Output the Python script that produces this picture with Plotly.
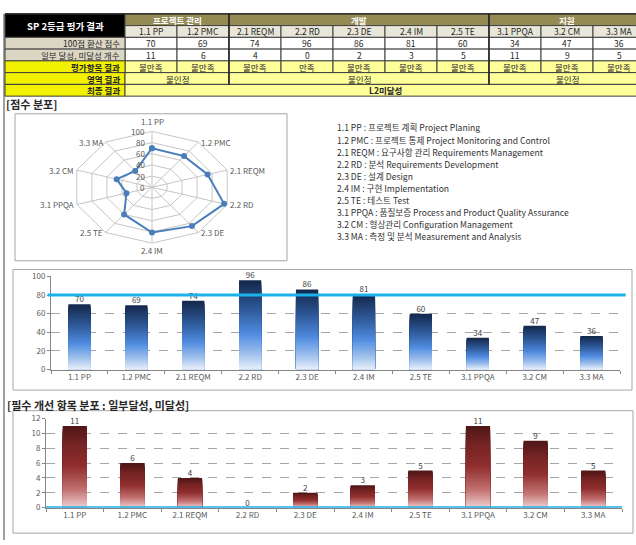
import math
import plotly.graph_objects as go

W, H = 636, 545
FONT = "Noto Sans CJK KR"

# ---------------- data ----------------
processes = ["1.1 PP", "1.2 PMC", "2.1 REQM", "2.2 RD", "2.3 DE",
             "2.4 IM", "2.5 TE", "3.1 PPQA", "3.2 CM", "3.3 MA"]
groups = ["프로젝트 관리", "개발", "지원"]
group_sizes = [2, 5, 3]
scores = [70, 69, 74, 96, 86, 81, 60, 34, 47, 36]
gap_counts = [11, 6, 4, 0, 2, 3, 5, 11, 9, 5]
item_results = ["불만족", "불만족", "불만족", "만족", "불만족",
                "불만족", "불만족", "불만족", "불만족", "불만족"]
area_results = ["불인정", "불인정", "불인정"]
final_result = "L2미달성"
table_title = "SP 2등급 평가 결과"
row_labels = ["100점 환산 점수", "일부 달성, 미달성 개수", "평가항목 결과", "영역 결과", "최종 결과"]
descriptions = [
    "1.1 PP : 프로젝트 계획 Project Planing",
    "1.2 PMC : 프로젝트 통제 Project Monitoring and Control",
    "2.1 REQM : 요구사항 관리 Requirements Management",
    "2.2 RD : 분석 Requirements Development",
    "2.3 DE : 설계 Design",
    "2.4 IM : 구현 Implementation",
    "2.5 TE : 테스트 Test",
    "3.1 PPQA : 품질보증 Process and Product Quality Assurance",
    "3.2 CM : 형상관리 Configuration Management",
    "3.3 MA : 측정 및 분석 Measurement and Analysis",
]
score_title = "[점수 분포]"
gap_title = "[필수 개선 항목 분포 : 일부달성, 미달성]"
target_score = 80
gap_target = 0
radar_levels = [0, 20, 40, 60, 80, 100]
score_ticks = [0, 20, 40, 60, 80, 100]
gap_ticks = [0, 2, 4, 6, 8, 10, 12]

# ---------------- helpers ----------------
def px(x):
    return x / W


def py(y):
    return 1 - y / H


shapes = []
annotations = []


def rect(x0, y0, x1, y1, fill=None, line="#3F3F3F", lw=1, layer="below"):
    shapes.append(dict(type="rect", xref="paper", yref="paper",
                       x0=px(x0), x1=px(x1), y0=py(y1), y1=py(y0),
                       fillcolor=fill or "rgba(0,0,0,0)",
                       line=dict(color=line, width=lw), layer=layer))


def hline(x0, x1, y, color="#3F3F3F", lw=1):
    shapes.append(dict(type="line", xref="paper", yref="paper",
                       x0=px(x0), x1=px(x1), y0=py(y), y1=py(y),
                       line=dict(color=color, width=lw)))


def vline(x, y0, y1, color="#3F3F3F", lw=1):
    shapes.append(dict(type="line", xref="paper", yref="paper",
                       x0=px(x), x1=px(x), y0=py(y0), y1=py(y1),
                       line=dict(color=color, width=lw)))


def text(x, y, s, size=10, color="#262626", bold=False, xanchor="center"):
    annotations.append(dict(xref="paper", yref="paper", x=px(x), y=py(y),
                            text=f"<b>{s}</b>" if bold else s, showarrow=False,
                            xanchor=xanchor, yanchor="middle", borderpad=0,
                            font=dict(family=FONT, size=size, color=color)))


def hex2rgb(h):
    h = h.lstrip("#")
    return tuple(int(h[i:i + 2], 16) for i in (0, 2, 4))


def interp(stops, f):
    for (p0, c0), (p1, c1) in zip(stops[:-1], stops[1:]):
        if p0 <= f <= p1:
            t = (f - p0) / (p1 - p0) if p1 > p0 else 0
            a, b = hex2rgb(c0), hex2rgb(c1)
            r = [round(a[i] + (b[i] - a[i]) * t) for i in range(3)]
            return f"rgb({r[0]},{r[1]},{r[2]})"
    return stops[-1][1]


# ---------------- table ----------------
COL0, COLW = 125, 52
ROWS = [8, 20, 32, 44, 56, 68, 80, 92]
LBL_X0 = 5
edges = [COL0 + COLW * i for i in range(len(processes) + 1)]
TAN = "#DCD7C4"
TAN_LIGHT = "#E9E6DA"
OLIVE = "#948A54"
YEL = "#F2F200"
YEL_LIGHT = "#FFFF99"
TFS = 8.5

rect(LBL_X0, ROWS[0], COL0, ROWS[2], fill="#000000")
text((LBL_X0 + COL0) / 2, (ROWS[0] + ROWS[2]) / 2, table_title, size=9.5, color="white", bold=True)

gstart = 0
group_bounds = []
for g, n in zip(groups, group_sizes):
    x0, x1 = edges[gstart], edges[gstart + n]
    group_bounds.append((x0, x1))
    rect(x0, ROWS[0], x1, ROWS[1], fill=OLIVE)
    text((x0 + x1) / 2, (ROWS[0] + ROWS[1]) / 2, g, size=TFS, color="white", bold=True)
    gstart += n

for i, p in enumerate(processes):
    x0, x1 = edges[i], edges[i + 1]
    cx = (x0 + x1) / 2
    rect(x0, ROWS[1], x1, ROWS[2], fill=TAN_LIGHT)
    text(cx, (ROWS[1] + ROWS[2]) / 2, p, size=TFS)
    rect(x0, ROWS[2], x1, ROWS[3], fill="white")
    text(cx, (ROWS[2] + ROWS[3]) / 2, str(scores[i]), size=TFS)
    rect(x0, ROWS[3], x1, ROWS[4], fill="white")
    text(cx, (ROWS[3] + ROWS[4]) / 2, str(gap_counts[i]), size=TFS)
    rect(x0, ROWS[4], x1, ROWS[5], fill=YEL_LIGHT)
    text(cx, (ROWS[4] + ROWS[5]) / 2, item_results[i], size=TFS)

for r, lab in enumerate(row_labels):
    y0, y1 = ROWS[r + 2], ROWS[r + 3]
    fill = TAN if r < 2 else YEL
    rect(LBL_X0, y0, COL0, y1, fill=fill)
    text(COL0 - 4, (y0 + y1) / 2, lab, size=TFS, bold=(r >= 2), xanchor="right",
         color="#262626")

for (x0, x1), res in zip(group_bounds, area_results):
    rect(x0, ROWS[5], x1, ROWS[6], fill=YEL_LIGHT)
    text((x0 + x1) / 2, (ROWS[5] + ROWS[6]) / 2, res, size=TFS)

rect(COL0, ROWS[6], edges[-1], ROWS[7], fill=YEL_LIGHT)
text((COL0 + edges[-1]) / 2, (ROWS[6] + ROWS[7]) / 2, final_result, size=TFS, bold=True)

for (x0, x1) in group_bounds[1:]:
    vline(x0, ROWS[0], ROWS[6], color="#262626", lw=1.5)
hline(LBL_X0, W, ROWS[0], color="#262626", lw=1.2)

# page left border
vline(4, ROWS[0], H, color="#404040", lw=1)

# ---------------- section titles / description ----------------
text(5, 100, score_title, size=11, bold=True, xanchor="left", color="#262626")
text(6, 407, gap_title, size=11, bold=True, xanchor="left", color="#262626")
for i, d in enumerate(descriptions):
    text(336, 124 + 12.33 * i, d, size=8.6, xanchor="left", color="#333333")

# boxes
rect(15, 110, 287, 260, line="#A6A6A6", lw=1)
rect(13, 269, 632, 392, line="#A6A6A6", lw=1)
rect(13, 413, 633, 538, line="#A6A6A6", lw=1)

fig = go.Figure()

# ---------------- radar (cartesian) ----------------
n = len(processes)
angles = [math.radians(90 - 360 / n * i) for i in range(n)]
gx, gy = [], []
for lv in radar_levels[1:]:
    for a in angles + angles[:1]:
        gx.append(lv * math.cos(a))
        gy.append(lv * math.sin(a))
    gx.append(None)
    gy.append(None)
rmax = radar_levels[-1]
for a in angles:
    gx += [0, rmax * math.cos(a), None]
    gy += [0, rmax * math.sin(a), None]
fig.add_trace(go.Scatter(x=gx, y=gy, mode="lines", line=dict(color="#C6C6C6", width=1),
                         xaxis="x3", yaxis="y3", hoverinfo="skip", showlegend=False))
rx = [v * math.cos(a) for v, a in zip(scores, angles)]
ry = [v * math.sin(a) for v, a in zip(scores, angles)]
fig.add_trace(go.Scatter(x=rx + rx[:1], y=ry + ry[:1], mode="lines+markers",
                         line=dict(color="#4A7EBB", width=2),
                         marker=dict(color="#4A7EBB", size=6),
                         xaxis="x3", yaxis="y3", showlegend=False))
for p, a in zip(processes, angles):
    cx, sy = math.cos(a), math.sin(a)
    ann = dict(xref="x3", yref="y3", x=rmax * cx, y=rmax * sy, text=p, showarrow=False,
               borderpad=0, font=dict(family=FONT, size=8, color="#595959"))
    if abs(cx) < 0.01:
        ann.update(xanchor="center", yanchor="bottom" if sy > 0 else "top",
                   yshift=3 if sy > 0 else -1)
    elif cx > 0:
        ann.update(xanchor="left", yanchor="middle", xshift=2)
    else:
        ann.update(xanchor="right", yanchor="middle", xshift=-2)
    annotations.append(ann)
for lv in radar_levels:
    annotations.append(dict(xref="x3", yref="y3", x=0, y=lv, text=str(lv), showarrow=False,
                            xanchor="right", yanchor="middle", xshift=-6, borderpad=0,
                            font=dict(family=FONT, size=8, color="#595959")))

# ---------------- gradient bars ----------------
NSL = 40
blue_stops = [(0, "#EAF0FA"), (0.15, "#A8C6EE"), (0.4, "#4F8BE0"), (0.67, "#2F5A9A"), (1, "#13264A")]
red_stops = [(0, "#F0D0D0"), (0.22, "#C27171"), (0.5, "#912F2F"), (0.78, "#742323"), (1, "#4E1616")]


def gradient_bars(values, stops, xa, ya, width):
    for k in range(NSL):
        frac = (NSL - k) / NSL
        f = (NSL - k - 0.5) / NSL
        fig.add_trace(go.Bar(x=processes, y=[v * frac for v in values],
                             marker=dict(color=interp(stops, f), line=dict(width=0)),
                             width=width, xaxis=xa, yaxis=ya, hoverinfo="skip",
                             showlegend=False))
    fig.add_trace(go.Scatter(x=processes, y=values, mode="text", text=[str(v) for v in values],
                             textposition="top center", cliponaxis=False,
                             textfont=dict(family=FONT, size=8, color="#404040"),
                             xaxis=xa, yaxis=ya, hoverinfo="skip", showlegend=False))


gradient_bars(scores, blue_stops, "x", "y", 0.39)
gradient_bars(gap_counts, red_stops, "x2", "y2", 0.42)

shapes.append(dict(type="line", xref="x domain", yref="y", x0=-0.006, x1=1.01,
                   y0=target_score, y1=target_score, line=dict(color="#1DB1EC", width=3)))
shapes.append(dict(type="line", xref="x2 domain", yref="y2", x0=0, x1=1,
                   y0=gap_target, y1=gap_target, line=dict(color="#1DB1EC", width=3)))

axis_common = dict(showline=True, linecolor="#868686", linewidth=1, zeroline=False,
                   tickfont=dict(family=FONT, size=8, color="#595959"), fixedrange=True)
xcat = dict(axis_common, ticks="outside", tickson="boundaries", ticklen=3,
            tickcolor="#868686", showgrid=False)
yval = dict(axis_common, ticks="outside", ticklen=3, tickcolor="#868686",
            showgrid=True, gridcolor="#A6A6A6", griddash="dash", gridwidth=1)

fig.update_layout(
    width=W, height=H,
    margin=dict(l=0, r=0, t=0, b=0),
    paper_bgcolor="white", plot_bgcolor="white",
    barmode="overlay", showlegend=False,
    font=dict(family=FONT),
    xaxis=dict(xcat, domain=[px(51), px(620)], anchor="y"),
    yaxis=dict(yval, domain=[py(371), py(276)], range=[0, 100], tickvals=score_ticks,
               anchor="x", tickfont=dict(family=FONT, size=8, color="#595959")),
    xaxis2=dict(xcat, domain=[px(46), px(622)], anchor="y2"),
    yaxis2=dict(yval, domain=[py(512), py(421)], range=[0, 12], tickvals=gap_ticks,
                anchor="x2", tickfont=dict(family=FONT, size=8, color="#595959")),
    xaxis3=dict(domain=[px(15), px(287)], range=[-(152 - 15) / 0.79, (287 - 152) / 0.79],
                visible=False, anchor="y3", fixedrange=True),
    yaxis3=dict(domain=[py(260), py(110)], range=[-(260 - 185) / 0.57, (185 - 110) / 0.57],
                visible=False, anchor="x3", fixedrange=True),
    shapes=shapes,
    annotations=annotations,
)

fig.write_html("out.html", post_script="document.body.style.margin='0';",
               config={"displayModeBar": False})
